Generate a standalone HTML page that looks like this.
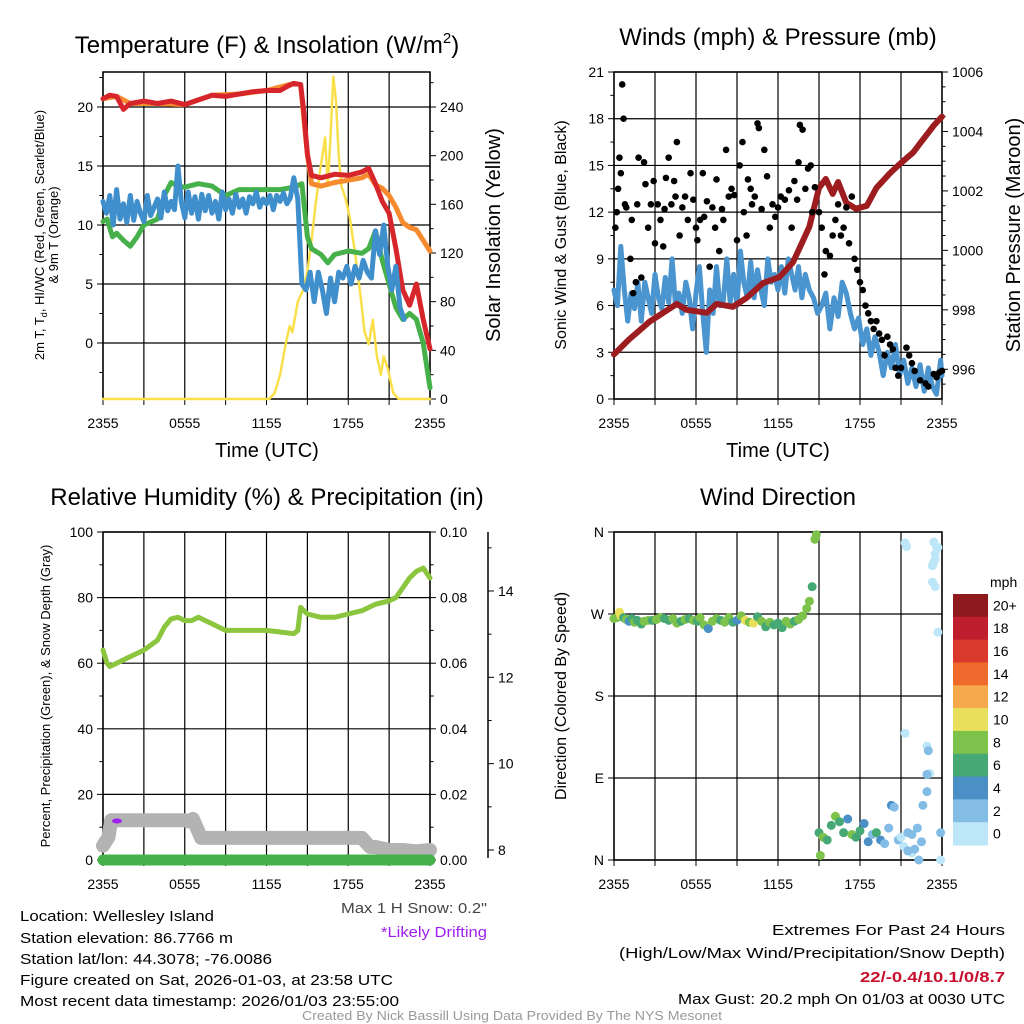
<!DOCTYPE html>
<html><head><meta charset="utf-8"><style>
html,body{margin:0;padding:0;background:#fff}
svg{display:block;font-family:"Liberation Sans",Arial,sans-serif}
</style></head><body>
<svg id="c" width="1024" height="1024" viewBox="0 0 1024 1024" xmlns="http://www.w3.org/2000/svg">
<rect width="1024" height="1024" fill="#fff"/>
<g id="g"></g>
<g font-size="15" fill="#000">
<text x="20" y="921" textLength="194" lengthAdjust="spacingAndGlyphs">Location: Wellesley Island</text>
<text x="20" y="943" textLength="213" lengthAdjust="spacingAndGlyphs">Station elevation: 86.7766 m</text>
<text x="20" y="964" textLength="252" lengthAdjust="spacingAndGlyphs">Station lat/lon: 44.3078; -76.0086</text>
<text x="20" y="985" textLength="373" lengthAdjust="spacingAndGlyphs">Figure created on Sat, 2026-01-03, at 23:58 UTC</text>
<text x="20" y="1006" textLength="379" lengthAdjust="spacingAndGlyphs">Most recent data timestamp: 2026/01/03 23:55:00</text>
</g>
<text x="487" y="913" font-size="15" fill="#444" text-anchor="end" textLength="146" lengthAdjust="spacingAndGlyphs">Max 1 H Snow: 0.2"</text>
<text x="487" y="937" font-size="15" fill="#a020f0" text-anchor="end" textLength="106" lengthAdjust="spacingAndGlyphs">*Likely Drifting</text>
<g font-size="15" text-anchor="end">
<text x="1005" y="935" textLength="233" lengthAdjust="spacingAndGlyphs">Extremes For Past 24 Hours</text>
<text x="1005" y="958" textLength="386" lengthAdjust="spacingAndGlyphs">(High/Low/Max Wind/Precipitation/Snow Depth)</text>
<text x="1005" y="982" fill="#c8102e" font-weight="bold" textLength="145" lengthAdjust="spacingAndGlyphs">22/-0.4/10.1/0/8.7</text>
<text x="1005" y="1004" textLength="327" lengthAdjust="spacingAndGlyphs">Max Gust: 20.2 mph On 01/03 at 0030 UTC</text>
</g>
<text x="512" y="1020" font-size="13" fill="#999" text-anchor="middle" textLength="420" lengthAdjust="spacingAndGlyphs">Created By Nick Bassill Using Data Provided By The NYS Mesonet</text>
</svg>
<script>
// ---------- data ----------
const timeTicks=["2355","0555","1155","1755","2355"];
// Panel 1 (hours since 2355)
const tempH=[0,0.5,1,1.5,2,3,4,5,6,7,8,9,10,11,12,13,13.6,14,14.5,14.7,15,15.3,16,17,18,19,19.5,20,20.5,21,21.5,22,22.5,23,23.5,24];
const tempV=[20.7,21,20.9,19.8,20.3,20.5,20.3,20.5,20.2,20.6,21,20.9,21.1,21.3,21.4,21.4,21.8,22,21.9,20,16,14.2,14,14.3,14.2,14.5,14.8,13.5,12,11,8,4.5,3.2,5,2,-0.5];
const t9H=[0,1,2,4,6,8,10,12,14,14.5,15,15.3,16,17,18,19,19.5,20,20.5,21,21.5,22,22.5,23,23.5,24];
const t9V=[20.7,20.9,20.3,20.3,20.2,21,21.1,21.4,22,21.9,16,13.5,13.3,13.6,13.8,14,14.3,13.4,13.1,12.5,11.5,10.2,9.8,9.6,8.7,7.8];
const tdH=[0,0.3,0.7,1,1.5,2,2.5,3,4,4.5,5,5.5,6,7,8,9,10,11,12,13,14,14.6,15,15.3,16,16.5,17,18,19,19.5,20,20.5,21,21.5,22,22.5,23,23.5,24];
const tdV=[10.3,10.5,9,9.3,8.7,8.2,9,10,10.5,12.5,13.6,13.3,13.2,13.5,13.3,12.5,13,13,13,13,13.2,13.5,9,8,7.5,6.8,7.5,7.8,7.6,8,9.5,7,5,3,2,2.5,2,0,-3.8];
const wcH=[0,0.25,0.5,0.75,1,1.25,1.5,1.75,2,2.25,2.5,2.75,3,3.25,3.5,3.75,4,4.25,4.5,4.75,5,5.25,5.5,5.75,6,6.25,6.5,6.75,7,7.25,7.5,7.75,8,8.25,8.5,8.75,9,9.25,9.5,9.75,10,10.25,10.5,10.75,11,11.25,11.5,11.75,12,12.25,12.5,12.75,13,13.25,13.5,13.75,14,14.3,14.6,14.9,15.2,15.5,15.8,16.1,16.4,16.7,17,17.3,17.6,17.9,18.2,18.5,18.8,19.1,19.4,19.7,20,20.3,20.6,20.9,21.2,21.5,21.8,22.1];
const wcV=[12,11,12.5,10,13,10.5,11.8,10.2,12.5,10.4,12,11,10.3,12.5,10.8,11.5,12.2,10.6,12.8,11.2,12,11.3,15,12,10.6,12.8,11,12.4,10.5,12.6,11.2,12.5,11,12,10.5,12.8,11.3,12.2,11,12.6,11.5,12.2,11,12.4,11.8,12.8,11.5,12.2,11.8,12.5,11.3,12.5,12,12.7,11.8,12.3,14,12.2,5,4.5,6,3.5,6,4.5,2.5,5.5,3.5,6,5.5,6.5,5,6.5,5.5,7,6,5.5,9.5,7.5,10,6.5,4.5,6.5,3,2];
const solH=[0,12.2,12.6,13,13.4,13.7,13.9,14.3,14.7,15,15.3,15.6,15.9,16.1,16.3,16.5,16.7,16.9,17.1,17.3,17.5,17.8,18.1,18.5,18.9,19.2,19.5,19.8,20.1,20.4,20.6,20.9,21.3,21.7,24];
const solV=[0,0,5,20,45,60,55,80,90,105,130,160,185,200,215,175,215,265,245,200,175,165,150,120,85,55,45,65,35,20,35,25,5,0,0];
// Panel 2
const windH=wcH.map(h=>h).concat([22.4,22.7,23,23.3,23.6,23.9,24]);
const windV=[7,6,9.8,7,5,6.8,5.8,7.5,5,7.5,6.5,5.5,8,6.5,5.8,7.8,6.2,9,6,6.8,5.5,7.5,6.5,4.5,6.8,8.5,5.5,3,7,5.5,8.5,6,6.3,9,6.2,8,6,9.5,7.5,6.5,8.8,6.5,8.3,7,6,9,7.5,8,7,8.5,6.8,9,8,7,8.5,6.5,8,7,6.5,5.5,6,6.8,4.5,6.5,5.3,7.5,6.8,5.5,4.5,5.2,3.5,4.5,2.8,4,3,1.5,3,2,3.5,1.5,2.5,1,2,0.8,2.2,0.5,2,0.8,0.3,2.5,1.5];
const presH=[0,1.1,2.6,4.6,5.3,6.8,7.5,8.7,9.7,10.9,12.1,13.1,13.6,14.3,15,15.5,16,16.4,17,17.7,18.5,19.2,20.2,20.9,21.9,22.4,23.4,24];
const presV=[996.5,997,997.6,998.2,998,997.9,998.2,998.1,998.4,998.9,999.1,999.6,1000.1,1000.8,1002.1,1002.4,1001.9,1002.3,1001.6,1001.4,1001.5,1002.1,1002.6,1002.9,1003.3,1003.6,1004.2,1004.5];
const gustH=[0.1,0.2,0.3,0.4,0.5,0.6,0.7,0.8,0.9,1.2,1.3,1.4,1.6,1.7,1.8,2.0,2.2,2.3,2.5,2.7,2.9,3.0,3.2,3.4,3.6,3.7,3.8,4.0,4.2,4.4,4.5,4.6,4.8,5.0,5.2,5.4,5.6,5.8,6.0,6.1,6.3,6.5,6.6,6.8,7.0,7.2,7.4,7.5,7.7,7.9,8.0,8.2,8.4,8.6,8.8,9.0,9.2,9.4,9.5,9.7,9.8,10.0,10.1,10.3,10.5,10.6,10.8,11.0,11.2,11.4,11.6,11.8,12.0,12.2,12.5,12.8,13.0,13.2,13.4,13.5,13.6,13.8,14.0,14.2,14.4,14.5,14.7,15.0,15.2,15.4,15.5,15.8,16.0,16.2,16.4,16.6,16.8,17.0,17.2,17.4,17.6,17.8,18.0,18.2,18.4,18.6,18.8,19.0,19.2,19.4,19.6,19.8,20.0,20.2,20.4,20.6,20.8,21.0,21.4,21.6,21.8,22.0,22.4,22.8,23.0,23.4,23.6,23.8,24];
const gustV=[11,12,13.5,15.5,14.5,20.2,18,12.5,12.3,9,11.5,6.8,7.5,12.5,15.5,7.8,15.2,13.8,11,12.5,14,10,12.5,11.5,9.8,12.2,14.2,15.5,12.5,14,13,16.5,10.5,12.3,13,11.5,14.5,12.8,11,10.2,11.5,14.5,11.7,12.7,8.5,12.3,11,14.1,9.5,12.2,11.5,16,13,13.5,13.1,10.2,15,16.5,12,10.5,14.1,13.5,12.5,13,17.7,17.4,12.2,16,14.3,11,12.5,11.7,12.3,13,12.8,13.4,11,14,12.8,15.2,17.6,17.3,13.5,14.8,15,12,13.6,12,11,8,9.5,9.2,10.5,11.5,12.5,10.5,11,12.3,10,13,9,8.3,7.5,7,6,5.5,5,4.5,5,4.2,3.8,2.8,4,3.5,3.2,2,1.5,2,3.3,2.8,2.3,1.8,1.2,1,0.8,1.6,1.4,1.7,1.8];
// Panel 3
const rhH=[0,0.3,0.5,1,2,3,4,4.5,5,5.5,6,6.5,7,8,8.5,9,10,11,12,13,14,14.3,14.5,15,16,17,18,19,20,21,21.5,22,22.5,23,23.5,24];
const rhV=[64,60,59,60,62,64,67,71,73.5,74,73,73,74,72,71,70,70,70,70,69.5,69,70,77,75,74,74,75,76,78,79,80,83,86,88,89,86];
const snowH=[0,0.4,0.6,1,3,5,6,6.3,6.6,7.2,8,10,12,14,16,18,19,19.6,20,21,22,23,24];
const snowV=[8.1,8.3,8.69,8.69,8.69,8.69,8.69,8.66,8.72,8.28,8.28,8.28,8.28,8.28,8.28,8.28,8.28,8.07,8.07,8.0,8.0,7.97,8.0];
const precH=[0,24];
const precV=[0,0];
// Panel 4
const dirH=[0,0.2,0.4,0.5,0.7,0.9,1.1,1.3,1.5,1.7,2,2.2,2.5,2.8,3.1,3.4,3.7,4,4.3,4.6,4.9,5.2,5.5,5.8,6.1,6.3,6.6,6.9,7.2,7.5,7.8,8.1,8.4,8.7,9,9.3,9.6,9.9,10.2,10.5,10.8,11.1,11.4,11.7,12,12.3,12.6,12.9,13.2,13.5,13.8,14.1,14.3,14.5,14.7,14.8,15,15.1,15.3,15.6,15.9,16.2,16.5,16.8,17.1,17.4,17.7,18,18.3,18.6,18.9,19.2,19.5,19.8,20.1,20.3,20.5,20.8,21,21.2,21.5,21.8,22,22.3,22.6,22.9,23.1,23.3,23.5,23.7,23.9,21.3,21.4,23.4,23.6,23.7,23.5,23.5,23.4,23.3,21.3,22.9,23.0,22.9,21.5,21.8,22.2,22.5,23.9];
const dirD=[265,266,272,268,266,264,262,265,261,263,259,262,263,263,264,266,265,263,265,260,262,264,265,263,262,266,258,254,262,265,263,261,266,261,263,268,263,261,260,267,262,256,261,258,260,255,262,259,262,264,268,276,284,300,352,357,30,5,25,22,38,48,42,30,45,28,25,32,40,20,28,30,22,18,35,60,58,22,25,15,30,8,12,0,60,75,95,305,300,250,30,348,344,349,344,343,336,330,327,323,139,125,120,94,10,28,35,20,0];
const dirS=[7,7,10,9,5,7,4,6,7,6,5,7,8,6,7,7,6,5,7,8,6,7,5,7,6,8,7,4,7,8,6,7,8,6,4,7,10,8,9,6,8,5,7,5,6,6,8,7,5,7,8,8,7,6,8,7,5,7,8,6,5,7,6,5,4,7,6,5,4,3,2,5,3,2,2,3,1,1,0,0,1,0,1,1,1,1,0,0,0,0,1,0,0,0,0,0,0,0,0,0,0,0,1,1,1,1,2,1,0];
const cbLabels=["20+","18","16","14","12","10","8","6","4","2","0"];
const cbColors=["#8f1a1d","#bf1e2e","#d93a2b","#ef6a2d","#f5a94c","#e8df5a","#7dc24b","#46a874","#4a8fc6","#83bde6","#bde6f8"];

// ---------- helpers ----------
const NS="http://www.w3.org/2000/svg";
const root=document.getElementById('g');
function el(tag,attrs,parent,txt){const e=document.createElementNS(NS,tag);for(const k in attrs)e.setAttribute(k,attrs[k]);if(txt!==undefined)e.textContent=txt;(parent||root).appendChild(e);return e;}
function lin(d0,d1,r0,r1){return v=>r0+(v-d0)/(d1-d0)*(r1-r0);}
function pathOf(xs,ys,fx,fy){return xs.map((h,i)=>(i?'L':'M')+fx(h).toFixed(1)+','+fy(ys[i]).toFixed(1)).join('');}
function frame(p,xT,hGrid,fy){
  const g=el('g',{});
  
  
  for(let h=0;h<=24;h+=3){const x=xT(h);el('line',{x1:x,x2:x,y1:p.y0,y2:p.y1,stroke:'#000','stroke-width':1.2},g);}
  hGrid.forEach(v=>{const y=fy(v);el('line',{x1:p.x0,x2:p.x1,y1:y,y2:y,stroke:'#000','stroke-width':1.2},g);});
  el('rect',{x:p.x0,y:p.y0,width:p.x1-p.x0,height:p.y1-p.y0,fill:'none',stroke:'#000','stroke-width':1.5},g);
  const ax=el('g',{});
  
  
  for(let h=0;h<=24;h+=3){el('line',{x1:xT(h),x2:xT(h),y1:p.y1,y2:p.y1+6,stroke:'#000'},ax);}
  timeTicks.forEach((t,i)=>{el('text',{x:xT(i*6),y:p.y1+29,'font-size':14,'text-anchor':'middle'},ax,t);});
}
function yTicks(name,vals,labels,fy,x,side,minor){
  const g=el('g',{});
  
  
  const d=side==='l'?-6:6;
  vals.forEach((v,i)=>{const y=fy(v);el('line',{x1:x,x2:x+d,y1:y,y2:y,stroke:'#000'},g);
    el('text',{x:x+(side==='l'?-10:10),y:y+5,'font-size':14,'text-anchor':side==='l'?'end':'start'},g,labels[i]);});
  (minor||[]).forEach(v=>{const y=fy(v);el('line',{x1:x,x2:x+d*0.6,y1:y,y2:y,stroke:'#000'},g);});
}
function title(name,x,y,txt,size){const t=el('text',{x:x,y:y,'font-size':size||24,'text-anchor':'middle'},root);t.innerHTML=txt;return t;}
function vtitle(name,x,y,txt,size){const t=el('text',{x:0,y:0,'font-size':size,'text-anchor':'middle',transform:`translate(${x},${y}) rotate(-90)`},root);t.innerHTML=txt;return t;}
function line(name,xs,ys,fx,fy,color,w){const p=el('path',{d:pathOf(xs,ys,fx,fy),fill:'none',stroke:color,'stroke-width':w,'stroke-linejoin':'round','stroke-linecap':'round'});return p;}

// ---------- Panel 1 ----------
{const P={name:'temp-panel',x0:103,x1:430,y0:72,y1:399};
 const xT=lin(0,24,P.x0,P.x1), yT=lin(0,20,343,107), yS=lin(0,240,399,107);
 frame(P,xT,[0,5,10,15,20],yT);
 yTicks('temp-y-axis',[0,5,10,15,20],['0','5','10','15','20'],yT,P.x0,'l',[-2.5,2.5,7.5,12.5,17.5,22.5]);
 yTicks('solar-y-axis',[0,40,80,120,160,200,240],['0','40','80','120','160','200','240'],yS,P.x1,'r',[20,60,100,140,180,220,260]);
 line('solar-insolation-line',solH,solV,xT,yS,'#f9e04b',2.5);
 line('temp-9m-line',t9H,t9V,xT,yT,'#f58a2e',5);
 line('temperature-line',tempH,tempV,xT,yT,'#d7262b',5);
 line('dewpoint-line',tdH,tdV,xT,yT,'#46b04a',5);
 line('windchill-line',wcH,wcV,xT,yT,'#3f8fcc',5);
 title('temp-panel-title',267,53,'Temperature (F) &amp; Insolation (W/m<tspan font-size="15" dy="-10">2</tspan><tspan dy="10">)</tspan>');
 title('temp-x-title',267,457,'Time (UTC)',20);
 vtitle('temp-y-title',44,235,'2m T, T<tspan font-size="9" dy="3">d</tspan><tspan dy="-3">, HI/WC (Red, Green, Scarlet/Blue)</tspan>',13);
 vtitle('temp-y-title-2',58,235,'&amp; 9m T (Orange)',13);
 vtitle('solar-y-title',500,235,'Solar Insolation (Yellow)',20);
}
// ---------- Panel 2 ----------
{const P={name:'wind-panel',x0:614,x1:942,y0:72,y1:399};
 const xT=lin(0,24,P.x0,P.x1), yW=lin(0,21,399,72), yP=lin(995,1006,399,72);
 frame(P,xT,[0,3,6,9,12,15,18,21],yW);
 yTicks('wind-y-axis',[0,3,6,9,12,15,18,21],['0','3','6','9','12','15','18','21'],yW,P.x0,'l',[1.5,4.5,7.5,10.5,13.5,16.5,19.5]);
 yTicks('pressure-y-axis',[996,998,1000,1002,1004,1006],['996','998','1000','1002','1004','1006'],yP,P.x1,'r',[995.5,996.5,997,997.5,998.5,999,999.5,1000.5,1001,1001.5,1002.5,1003,1003.5,1004.5,1005,1005.5]);
 line('wind-speed-line',windH,windV,xT,yW,'#4a94cf',5);
 line('pressure-line',presH,presV,xT,yP,'#9c1c1f',6);
 const gg=el('g',{});
 
 
 gustH.forEach((h,i)=>{const c=el('circle',{cx:xT(h),cy:yW(gustV[i]),r:3.3,fill:'#000'},gg);
   
   });
 title('wind-panel-title',778,45,'Winds (mph) &amp; Pressure (mb)');
 title('wind-x-title',778,457,'Time (UTC)',20);
 vtitle('wind-y-title',566,235,'Sonic Wind &amp; Gust (Blue, Black)',16);
 vtitle('pressure-y-title',1020,235,'Station Pressure (Maroon)',20);
}
// ---------- Panel 3 ----------
{const P={name:'rh-panel',x0:103,x1:430,y0:532,y1:860};
 const xT=lin(0,24,P.x0,P.x1), yR=lin(0,100,860,532), yPr=lin(0,0.1,860,532), yS=lin(8,14,850,591);
 frame(P,xT,[0,20,40,60,80,100],yR);
 yTicks('rh-y-axis',[0,20,40,60,80,100],['0','20','40','60','80','100'],yR,P.x0,'l',[10,30,50,70,90]);
 yTicks('precip-y-axis',[0,0.02,0.04,0.06,0.08,0.1],['0.00','0.02','0.04','0.06','0.08','0.10'],yPr,P.x1,'r',[0.01,0.03,0.05,0.07,0.09]);
 el('line',{x1:488,x2:488,y1:532,y2:858,stroke:'#000','stroke-width':1.5});
 yTicks('snow-y-axis',[8,10,12,14],['8','10','12','14'],yS,488,'r',[9,11,13,15]);
 line('snow-depth-line',snowH,snowV,xT,yS,'#b3b3b3',14);
 line('precip-line',precH,precV,xT,yPr,'#46b04a',11);
 line('rh-line',rhH,rhV,xT,yR,'#8cc63f',5);
 const d=el('ellipse',{cx:117,cy:821,rx:5,ry:2.5,fill:'#a020f0'});
 
 
 title('rh-panel-title',267,505,'Relative Humidity (%) &amp; Precipitation (in)');
 vtitle('rh-y-title',50,696,'Percent, Precipitation (Green), &amp; Snow Depth (Gray)',13);
}
// ---------- Panel 4 ----------
{const P={name:'dir-panel',x0:614,x1:942,y0:532,y1:860};
 const xT=lin(0,24,P.x0,P.x1), yD=lin(0,360,860,532);
 frame(P,xT,[0,90,180,270,360],yD);
 yTicks('dir-y-axis',[0,90,180,270,360],['N','E','S','W','N'],yD,P.x0,'l');
 const gg=el('g',{});
 
 
 function col(s){let i=Math.min(10,Math.floor((s+1)/2));return cbColors[10-i];}
 dirH.forEach((h,i)=>{const c=el('circle',{cx:xT(h),cy:yD(dirD[i]),r:4.5,fill:col(dirS[i])},gg);
   
   });
 const cb=el('g',{});
 
 
 const bh=(845-594)/11;
 cbColors.forEach((c,i)=>{el('rect',{x:953,y:594+i*bh,width:35,height:bh+0.5,fill:c},cb);
   el('text',{x:993,y:594+i*bh+bh/2+5,'font-size':14},cb,cbLabels[i]);});
 el('text',{x:990,y:587,'font-size':14},cb,'mph');
 title('dir-panel-title',778,505,'Wind Direction');
 vtitle('dir-y-title',566,696,'Direction (Colored By Speed)',16);
}
</script>
</body></html>
